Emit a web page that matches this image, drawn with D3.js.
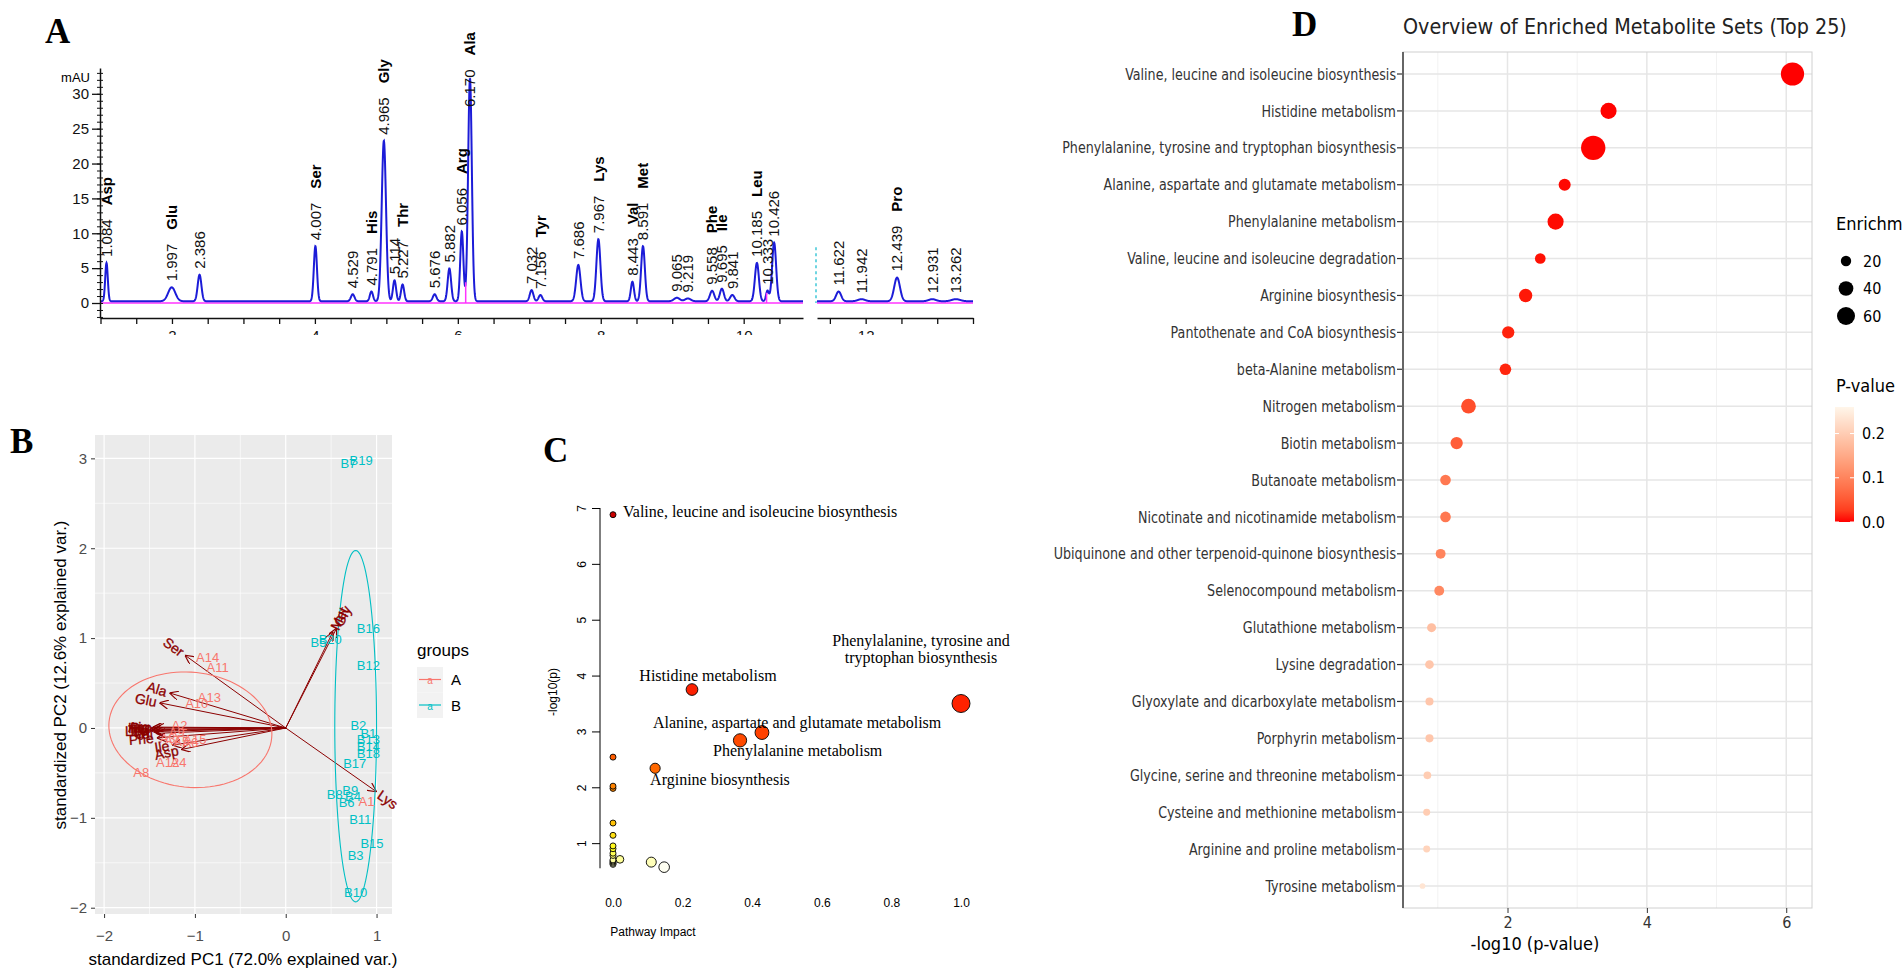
<!DOCTYPE html>
<html>
<head>
<meta charset="utf-8">
<script src="https://cdn.jsdelivr.net/npm/d3@7"></script>
<style>
body { margin: 0; background: #fff; }
svg { display: block; }
</style>
</head>
<body>
<svg id="fig" width="1902" height="980"></svg>
<script>
// ---- A: chromatogram peak table (retention time min, height mAU, width min) ----
const peakTimes = [1.084, 1.997, 2.386, 4.007, 4.529, 4.791, 4.965, 5.114, 5.227, 5.676, 5.882, 6.056, 6.170,
    7.032, 7.156, 7.686, 7.967, 8.443, 8.591, 9.065, 9.219, 9.558, 9.695, 9.841, 10.185, 10.333, 10.426,
    11.622, 11.942, 12.439, 12.931, 13.262];
const peakHeights = [5.5, 2.0, 3.8, 7.9, 1.0, 1.4, 23.0, 3.0, 2.4, 1.0, 4.7, 10.0, 32.0,
    1.6, 0.9, 5.2, 8.9, 2.8, 7.9, 0.5, 0.4, 1.5, 1.8, 0.9, 5.5, 1.5, 8.4,
    1.4, 0.3, 3.4, 0.3, 0.3];
const peakWidths = [0.018, 0.05, 0.026, 0.022, 0.025, 0.022, 0.03, 0.022, 0.022, 0.025, 0.024, 0.022, 0.026,
    0.025, 0.025, 0.03, 0.028, 0.022, 0.026, 0.04, 0.04, 0.03, 0.028, 0.03, 0.028, 0.02, 0.028,
    0.035, 0.05, 0.04, 0.05, 0.06];
const peakNames = ["Asp", "Glu", "", "Ser", "", "His", "Gly", "", "Thr", "", "", "Arg", "Ala",
    "", "Tyr", "", "Lys", "Val", "Met", "", "", "Phe", "Ile", "", "Leu", "", "",
    "", "", "Pro", "", ""];
const dropTimes = [6.11, 10.32];
const yTicksA = [0, 5, 10, 15, 20, 25, 30];

// ---- B: PCA biplot ----
const sampleNames = ["A1", "A2", "A3", "A4", "A5", "A6", "A7", "A8", "A9", "A10", "A11", "A12", "A13", "A14", "A15",
    "B1", "B2", "B3", "B4", "B5", "B6", "B7", "B8", "B9", "B10", "B11", "B12", "B13", "B14", "B15", "B16", "B17", "B18", "B19", "B20"];
const sampleX = [0.89, -1.17, -1.3, -1.18, -1.15, -1.05, -1.25, -1.59, -1.2, -0.98, -0.75, -1.3, -0.84, -0.86, -1.0,
    0.91, 0.8, 0.77, 0.74, 0.36, 0.67, 0.69, 0.54, 0.71, 0.77, 0.82, 0.91, 0.91, 0.91, 0.95, 0.91, 0.76, 0.91, 0.83, 0.49];
const sampleY = [-0.82, 0.03, -0.12, -0.38, -0.15, -0.16, -0.14, -0.5, -0.05, 0.27, 0.67, -0.38, 0.34, 0.79, -0.13,
    -0.06, 0.03, -1.42, -0.76, 0.95, -0.83, 2.94, -0.74, -0.69, -1.83, -1.02, 0.7, -0.13, -0.21, -1.28, 1.11, -0.39, -0.28, 2.98, 0.99];
const varNames = ["Ser", "Ala", "Glu", "Gly", "Met", "Lys", "Phe", "Ile", "Asp", "His", "Thr", "Arg", "Tyr", "Val", "Leu", "Pro"];
const varX = [-1.11, -1.28, -1.39, 0.56, 0.52, 1.0, -1.42, -1.25, -1.15, -1.48, -1.47, -1.46, -1.45, -1.43, -1.48, -1.44];
const varY = [0.81, 0.39, 0.28, 1.11, 1.07, -0.71, -0.11, -0.19, -0.24, 0.0, -0.02, 0.01, -0.04, -0.06, -0.03, 0.0];
const groupNames = ["A", "B"];
const groupColors = ["#F8766D", "#00BFC4"];
const ellipseCx = [-1.05, 0.77];
const ellipseCy = [-0.02, 0.02];
const ellipseRx = [0.9, 0.23];
const ellipseRy = [0.64, 1.955];
const ellipseAngle = [-6, 0];

// ---- C: pathway analysis (impact vs -log10 p) ----
const pathNames = ["Valine, leucine and isoleucine biosynthesis", "Histidine metabolism",
    "Phenylalanine, tyrosine and tryptophan biosynthesis", "Alanine, aspartate and glutamate metabolism",
    "Phenylalanine metabolism", "Valine, leucine and isoleucine degradation", "Arginine biosynthesis",
    "Pantothenate and CoA biosynthesis", "beta-Alanine metabolism", "Nitrogen metabolism", "Biotin metabolism",
    "Butanoate metabolism", "Nicotinate and nicotinamide metabolism",
    "Ubiquinone and other terpenoid-quinone biosynthesis", "Selenocompound metabolism", "Glutathione metabolism",
    "Lysine degradation", "Glyoxylate and dicarboxylate metabolism", "Porphyrin metabolism",
    "Glycine, serine and threonine metabolism", "Cysteine and methionine metabolism",
    "Arginine and proline metabolism", "Tyrosine metabolism"];
const pathLogP = [6.88, 3.75, 3.5, 2.98, 2.84, 2.54, 2.34, 2.02, 1.98, 1.36, 1.14, 0.95, 0.9,
    0.82, 0.78, 0.71, 0.7, 0.68, 0.66, 0.66, 0.64, 0.62, 0.57];
const pathImpact = [0, 0.227, 1.0, 0.428, 0.365, 0, 0.121, 0, 0, 0, 0, 0, 0,
    0, 0, 0.02, 0, 0, 0, 0.11, 0, 0, 0.147];

// ---- D: enrichment overview (same pathway order) ----
const enrichLogP = [6.09, 3.45, 3.23, 2.82, 2.69, 2.47, 2.26, 2.01, 1.97, 1.44, 1.27, 1.11, 1.11,
    1.04, 1.02, 0.91, 0.88, 0.88, 0.88, 0.85, 0.84, 0.84, 0.78];
const enrichP = [0.000001, 0.0004, 0.0006, 0.0015, 0.002, 0.0034, 0.0055, 0.0098, 0.011, 0.04, 0.055, 0.085, 0.085,
    0.1, 0.105, 0.18, 0.19, 0.19, 0.19, 0.2, 0.2, 0.21, 0.235];
const enrichRatio = [100, 48, 110, 27, 48, 21, 33, 28, 25, 40, 28, 21, 21,
    18, 18, 15, 14, 12, 12, 11, 9, 9, 6];
const sizeBreaks = [20, 40, 60];
const pBreaks = [0.0, 0.1, 0.2];

const sans = "'Liberation Sans', Arial, sans-serif";
const serif = "'Liberation Serif', 'Times New Roman', serif";
const narrow = "'Liberation Sans Narrow', 'DejaVu Sans Condensed', 'Liberation Sans', sans-serif";

let svg = d3.select("#fig");
let defs = svg.append("defs");

// panel letters
const letterPos = [[45, 43], [10, 453], [543, 462], [1292, 36]];
["A", "B", "C", "D"].forEach((l, i) => {
    svg.append("text").attr("x", letterPos[i][0]).attr("y", letterPos[i][1])
        .style("font-family", serif).style("font-weight", "bold").style("font-size", "35px").text(l);
});

drawChromatogram();
drawBiplot();
drawImpact();
drawEnrichment();

// horizontal squeeze factor that gives a text the wanted width
function fitWidth(sel, width) {
    let len = sel.node().getComputedTextLength();
    return width / len;
}

function drawChromatogram() {
    let g = svg.append("g");
    let x1 = d3.scaleLinear().domain([1.0, 10.83]).range([100.5, 803]);
    let x2 = d3.scaleLinear().domain([11.32, 13.5]).range([817, 973]);
    let y = d3.scaleLinear().domain([-2.15, 33.7]).range([318, 68]);
    let xOf = t => (t < 11 ? x1 : x2)(t);

    let signal = t => d3.sum(peakTimes, (p, i) => peakHeights[i] * Math.exp(-0.5 * Math.pow((t - p) / peakWidths[i], 2)));

    // the time labels under the axis are cut off in the figure
    defs.append("clipPath").attr("id", "clipA").append("rect")
        .attr("x", -10).attr("y", -20).attr("width", 1000).attr("height", 37);

    [[x1, 1.0, 10.83], [x2, 11.32, 13.5]].forEach(([sx, t0, t1]) => {
        g.append("path").datum([t0, t1])
            .attr("d", d3.line().x(d => sx(d)).y(() => y(0)))
            .attr("stroke", "#ff33ff").attr("stroke-width", 1.6).attr("fill", "none");

        let ts = d3.range(t0, t1, 0.003).concat([t1]);
        g.append("path").datum(ts)
            .attr("d", d3.line().x(d => sx(d)).y(d => y(0.25 + signal(d))))
            .attr("stroke", "#1c1cd8").attr("stroke-width", 2).attr("fill", "none");

        let ticks = d3.range(Math.ceil(t0 * 2) / 2, t1 + 0.001, 0.5);
        let ax = g.append("g").attr("transform", "translate(0,318)")
            .attr("clip-path", "url(#clipA)")
            .call(d3.axisBottom(sx).tickValues(ticks).tickSize(6).tickSizeOuter(0).tickPadding(6)
                .tickFormat(d => (d % 2 === 0 ? d : "")));
        ax.selectAll("text").style("font-family", sans).style("font-size", "15px").attr("fill", "#111");
        ax.select(".domain").attr("stroke", "#111").attr("stroke-width", 1.5);
        ax.selectAll(".tick line").attr("stroke", "#111").attr("stroke-width", 1.3);
    });

    // magenta drop lines
    dropTimes.forEach(t => {
        g.append("line").attr("x1", x1(t)).attr("x2", x1(t))
            .attr("y1", y(0)).attr("y2", y(0.25 + signal(t)))
            .attr("stroke", "#ff33ff").attr("stroke-width", 1.5);
    });

    // cyan dashed marker at the break
    g.append("line").attr("x1", x2.range()[0] - 1).attr("x2", x2.range()[0] - 1)
        .attr("y1", y(8)).attr("y2", y(0)).attr("stroke", "#40c8d8")
        .attr("stroke-width", 1.5).attr("stroke-dasharray", "3,3");

    // y axis
    let yAx = g.append("g").attr("transform", "translate(100,0)")
        .call(d3.axisLeft(y).tickValues(yTicksA).tickSize(8).tickSizeOuter(0).tickPadding(3));
    yAx.selectAll("text").style("font-family", sans).style("font-size", "15px").attr("fill", "#111");
    yAx.select(".domain").attr("stroke", "#111").attr("stroke-width", 1.5);
    yAx.selectAll(".tick line").attr("stroke", "#111").attr("stroke-width", 1.3);
    g.append("g").attr("transform", "translate(103,0)")
        .call(d3.axisLeft(y).tickValues(d3.range(-2, 34, 1)).tickSize(6).tickSizeOuter(0).tickFormat(""))
        .call(s => s.select(".domain").remove())
        .selectAll("line").attr("stroke", "#111");
    g.append("text").attr("x", 90).attr("y", 82).attr("text-anchor", "end")
        .style("font-family", sans).style("font-size", "13px").text("mAU");

    // peak labels
    peakTimes.forEach((t, i) => {
        let px = xOf(t);
        let bottom = Math.max(y(peakHeights[i] + 0.25) - 6, 107);
        let lab = g.append("text")
            .attr("transform", `translate(${px},${bottom}) rotate(-90)`)
            .attr("dy", "0.35em")
            .style("font-family", sans).style("font-size", "15px").attr("fill", "#111")
            .text(t.toFixed(3));
        if (peakNames[i]) {
            let len = lab.node().getComputedTextLength();
            g.append("text")
                .attr("transform", `translate(${px},${bottom - len - 14}) rotate(-90)`)
                .attr("dy", "0.35em")
                .style("font-family", sans).style("font-size", "15px").style("font-weight", "bold")
                .text(peakNames[i]);
        }
    });
}

function drawBiplot() {
    let g = svg.append("g");
    let x = d3.scaleLinear().domain([-2.1, 1.17]).range([95, 392]);
    let y = d3.scaleLinear().domain([-2.07, 3.26]).range([914, 435]);

    g.append("rect").attr("x", 95).attr("y", 435).attr("width", 297).attr("height", 479).attr("fill", "#EBEBEB");

    // grid
    let minorX = [-1.5, -0.5, 0.5], majorX = [-2, -1, 0, 1];
    let minorY = [-1.5, -0.5, 0.5, 1.5, 2.5], majorY = [-2, -1, 0, 1, 2, 3];
    minorX.forEach(v => g.append("line").attr("x1", x(v)).attr("x2", x(v)).attr("y1", 435).attr("y2", 914).attr("stroke", "#fff").attr("stroke-width", 0.6));
    minorY.forEach(v => g.append("line").attr("y1", y(v)).attr("y2", y(v)).attr("x1", 95).attr("x2", 392).attr("stroke", "#fff").attr("stroke-width", 0.6));
    majorX.forEach(v => g.append("line").attr("x1", x(v)).attr("x2", x(v)).attr("y1", 435).attr("y2", 914).attr("stroke", "#fff").attr("stroke-width", 1.2));
    majorY.forEach(v => g.append("line").attr("y1", y(v)).attr("y2", y(v)).attr("x1", 95).attr("x2", 392).attr("stroke", "#fff").attr("stroke-width", 1.2));

    // arrow marker
    defs.append("marker").attr("id", "arrowB")
        .attr("viewBox", "0 0 10 10").attr("refX", 10).attr("refY", 5)
        .attr("markerWidth", 9).attr("markerHeight", 9).attr("markerUnits", "userSpaceOnUse")
        .attr("orient", "auto")
        .append("path").attr("d", "M0,0L10,5L0,10").attr("fill", "none").attr("stroke", "#8B0000").attr("stroke-width", 1.3);

    varNames.forEach((v, i) => {
        g.append("line").attr("x1", x(0)).attr("y1", y(0)).attr("x2", x(varX[i])).attr("y2", y(varY[i]))
            .attr("stroke", "#8B0000").attr("stroke-width", 1).attr("marker-end", "url(#arrowB)");
    });

    // group ellipses
    groupNames.forEach((gr, k) => {
        let a = ellipseAngle[k] * Math.PI / 180;
        let pts = d3.range(0, 101).map(j => {
            let t = j / 100 * 2 * Math.PI;
            let ex = ellipseRx[k] * Math.cos(t), ey = ellipseRy[k] * Math.sin(t);
            return [ellipseCx[k] + ex * Math.cos(a) - ey * Math.sin(a), ellipseCy[k] + ex * Math.sin(a) + ey * Math.cos(a)];
        });
        g.append("path").datum(pts).attr("d", d3.line().x(d => x(d[0])).y(d => y(d[1])))
            .attr("fill", "none").attr("stroke", groupColors[k]).attr("stroke-width", 1.1);
    });

    // sample labels
    sampleNames.forEach((s, i) => {
        let k = groupNames.indexOf(s[0]);
        g.append("text").attr("x", x(sampleX[i])).attr("y", y(sampleY[i])).attr("dy", "0.35em")
            .attr("text-anchor", "middle").attr("fill", groupColors[k])
            .style("font-family", sans).style("font-size", "13px").text(s);
    });

    // variable labels along the arrows
    varNames.forEach((v, i) => {
        let ang = -Math.atan(varY[i] / varX[i]) * 180 / Math.PI;
        let right = varX[i] > 0;
        g.append("text")
            .attr("transform", `translate(${x(varX[i])},${y(varY[i])}) rotate(${ang})`)
            .attr("dx", right ? 3 : -3).attr("dy", "0.35em")
            .attr("text-anchor", right ? "start" : "end").attr("fill", "#8B0000")
            .attr("stroke", "#8B0000").attr("stroke-width", 0.3)
            .style("font-family", sans).style("font-size", "14px").text(v);
    });

    // axes
    let xa = g.append("g").attr("transform", "translate(0,914)")
        .call(d3.axisBottom(x).tickValues(majorX).tickSize(4).tickSizeOuter(0).tickPadding(12).tickFormat(d3.format("d")));
    let ya = g.append("g").attr("transform", "translate(95,0)")
        .call(d3.axisLeft(y).tickValues(majorY).tickSize(4).tickSizeOuter(0).tickPadding(4).tickFormat(d3.format("d")));
    [xa, ya].forEach(a => {
        a.select(".domain").remove();
        a.selectAll("line").attr("stroke", "#333");
        a.selectAll("text").style("font-family", sans).style("font-size", "15px").attr("fill", "#4D4D4D");
    });
    g.append("text").attr("x", 243).attr("y", 965).attr("text-anchor", "middle")
        .style("font-family", sans).style("font-size", "17px").text("standardized PC1 (72.0% explained var.)");
    g.append("text").attr("transform", "translate(66,675) rotate(-90)").attr("text-anchor", "middle")
        .style("font-family", sans).style("font-size", "17px").text("standardized PC2 (12.6% explained var.)");

    // legend
    g.append("text").attr("x", 417).attr("y", 656).style("font-family", sans).style("font-size", "17px").text("groups");
    groupNames.forEach((gr, k) => {
        let ky = 667 + k * 25.5;
        g.append("rect").attr("x", 417).attr("y", ky).attr("width", 26).attr("height", 25.5).attr("fill", "#F2F2F2");
        g.append("line").attr("x1", 419).attr("x2", 441).attr("y1", ky + 12.5).attr("y2", ky + 12.5)
            .attr("stroke", groupColors[k]).attr("stroke-width", 1.2);
        g.append("text").attr("x", 430).attr("y", ky + 17).attr("text-anchor", "middle").attr("fill", groupColors[k])
            .style("font-family", sans).style("font-size", "10px").text("a");
        g.append("text").attr("x", 451).attr("y", ky + 18).style("font-family", sans).style("font-size", "15px").text(gr);
    });
}

function drawImpact() {
    let g = svg.append("g");
    let x = d3.scaleLinear().domain([0, 1]).range([613, 961]);
    let y = d3.scaleLinear().domain([0, 7]).range([899, 508]);
    let r = d3.scaleSqrt().domain([0, 1]).range([3, 9]);
    let col = d3.scaleLinear().domain([0.55, 0.9, 1.5, 2.3, 3.5, 7])
        .range(["#ffffff", "#ffff20", "#ffb000", "#ff6a00", "#ff2200", "#c80000"]);

    let ya = g.append("g").attr("transform", "translate(600,0)")
        .call(d3.axisLeft(y).tickValues([1, 2, 3, 4, 5, 6, 7]).tickSize(8).tickSizeOuter(0).tickFormat(d3.format("d")));
    ya.select(".domain").attr("d", `M0,${y(0.55)}V${y(7)}`).attr("stroke", "#000");
    ya.selectAll("text").attr("x", 0).attr("dy", "0.35em").attr("text-anchor", "middle")
        .attr("transform", "translate(-18,0) rotate(-90)")
        .style("font-family", sans).style("font-size", "12px").attr("fill", "#000");

    let xa = g.append("g").attr("transform", "translate(0,886)")
        .call(d3.axisBottom(x).tickValues([0, 0.2, 0.4, 0.6, 0.8, 1.0]).tickSize(0).tickSizeOuter(0).tickPadding(12)
            .tickFormat(d3.format(".1f")));
    xa.select(".domain").remove();
    xa.selectAll("text").style("font-family", sans).style("font-size", "12px").attr("fill", "#000");

    g.append("text").attr("x", 653).attr("y", 936).attr("text-anchor", "middle")
        .style("font-family", sans).style("font-size", "12px").text("Pathway Impact");
    g.append("text").attr("transform", "translate(553,692) rotate(-90)").attr("dy", "0.35em")
        .attr("text-anchor", "middle").style("font-family", sans).style("font-size", "12px").text("-log10(p)");

    // points, least significant drawn first
    d3.range(pathNames.length).reverse().forEach(i => {
        g.append("circle").attr("cx", x(pathImpact[i])).attr("cy", y(pathLogP[i]))
            .attr("r", r(pathImpact[i])).attr("fill", col(pathLogP[i]))
            .attr("stroke", "#000").attr("stroke-width", 0.9);
    });

    // labelled pathways: [index, dx, dy, anchor]
    const labelLayout = [[0, 10, -3, "start"], [1, 16, -14, "middle"], [3, -109, -10, "start"],
        [4, -27, 10, "start"], [6, -5, 11, "start"]];
    labelLayout.forEach(([i, dx, dy, anchor]) => {
        g.append("text").attr("x", x(pathImpact[i]) + dx).attr("y", y(pathLogP[i]) + dy).attr("dy", "0.35em")
            .attr("text-anchor", anchor).style("font-family", serif).style("font-size", "16px")
            .text(pathNames[i]);
    });
    let t = g.append("text").attr("text-anchor", "middle").style("font-family", serif).style("font-size", "16px");
    t.append("tspan").attr("x", x(pathImpact[2]) - 40).attr("y", y(pathLogP[2]) - 63).attr("dy", "0.35em")
        .text("Phenylalanine, tyrosine and");
    t.append("tspan").attr("x", x(pathImpact[2]) - 40).attr("y", y(pathLogP[2]) - 46).attr("dy", "0.35em")
        .text("tryptophan biosynthesis");
}

function drawEnrichment() {
    let g = svg.append("g");
    let x = d3.scaleLinear().domain([0.5, 6.37]).range([1403, 1812]);
    let y = d3.scalePoint().domain(pathNames).range([74, 886]);
    let r = d3.scaleSqrt().domain([0, 60]).range([0, 9]);
    let col = d3.scaleLinear().domain([0, 0.26]).range(["#ff0000", "#fff6ea"]).interpolate(d3.interpolateLab);

    let title = g.append("text").attr("x", 1403).attr("y", 34).style("font-family", narrow).style("font-size", "21px")
        .attr("fill", "#222").text("Overview of Enriched Metabolite Sets (Top 25)");
    title.attr("transform", `translate(1403,0) scale(${fitWidth(title, 444)},1) translate(-1403,0)`);

    g.append("rect").attr("x", 1403).attr("y", 52).attr("width", 409).attr("height", 856).attr("fill", "#fff");
    [1, 3, 5].forEach(v => g.append("line").attr("x1", x(v)).attr("x2", x(v)).attr("y1", 52).attr("y2", 908)
        .attr("stroke", "#f2f2f2").attr("stroke-width", 1));
    [2, 4, 6].forEach(v => g.append("line").attr("x1", x(v)).attr("x2", x(v)).attr("y1", 52).attr("y2", 908)
        .attr("stroke", "#e6e6e6").attr("stroke-width", 1.5));
    pathNames.forEach(p => g.append("line").attr("x1", 1403).attr("x2", 1812).attr("y1", y(p)).attr("y2", y(p))
        .attr("stroke", "#e6e6e6").attr("stroke-width", 1.5));
    g.append("rect").attr("x", 1403).attr("y", 52).attr("width", 409).attr("height", 856)
        .attr("fill", "none").attr("stroke", "#d0d0d0").attr("stroke-width", 1);

    pathNames.forEach((p, i) => {
        g.append("circle").attr("cx", x(enrichLogP[i])).attr("cy", y(p)).attr("r", r(enrichRatio[i]))
            .attr("fill", col(enrichP[i]));
    });

    // category axis, labels drawn by hand so they can be squeezed to the figure's narrow font
    g.append("line").attr("x1", 1403).attr("x2", 1403).attr("y1", 52).attr("y2", 908)
        .attr("stroke", "#666").attr("stroke-width", 2);
    let labs = g.selectAll(".cat").data(pathNames).enter().append("text")
        .attr("class", "cat").attr("x", 0).attr("y", 0).attr("dy", "0.35em").attr("text-anchor", "end")
        .style("font-family", narrow).style("font-size", "16px").attr("fill", "#333").text(d => d);
    let sx = fitWidth(d3.select(labs.nodes()[0]), 271);
    labs.attr("transform", d => `translate(1396,${y(d)}) scale(${sx},1)`);
    pathNames.forEach(p => g.append("line").attr("x1", 1397).attr("x2", 1402).attr("y1", y(p)).attr("y2", y(p))
        .attr("stroke", "#333").attr("stroke-width", 1.2));

    let xa = g.append("g").attr("transform", "translate(0,908)")
        .call(d3.axisBottom(x).tickValues([2, 4, 6]).tickSize(5).tickSizeOuter(0).tickPadding(4).tickFormat(d3.format("d")));
    xa.select(".domain").remove();
    xa.selectAll("line").attr("stroke", "#333");
    xa.selectAll("text").style("font-family", narrow).style("font-size", "16px").attr("fill", "#333");
    g.append("text").attr("x", 1535).attr("y", 950).attr("text-anchor", "middle")
        .style("font-family", narrow).style("font-size", "18px").text("-log10 (p-value)");

    // size legend
    g.append("text").attr("x", 1836).attr("y", 230).style("font-family", narrow).style("font-size", "18px")
        .text("Enrichment Ratio");
    sizeBreaks.forEach((v, i) => {
        let cy = 261 + i * 27.5;
        g.append("circle").attr("cx", 1846).attr("cy", cy).attr("r", r(v)).attr("fill", "#000");
        g.append("text").attr("x", 1863).attr("y", cy).attr("dy", "0.35em")
            .style("font-family", narrow).style("font-size", "16px").text(v);
    });

    // colour legend
    g.append("text").attr("x", 1836).attr("y", 392).style("font-family", narrow).style("font-size", "18px")
        .text("P-value");
    let py = d3.scaleLinear().domain([0, 0.26]).range([522, 407]);
    let grad = defs.append("linearGradient").attr("id", "pgrad")
        .attr("x1", 0).attr("y1", 1).attr("x2", 0).attr("y2", 0);
    d3.range(0, 1.01, 0.1).forEach(f => grad.append("stop").attr("offset", f).attr("stop-color", col(f * 0.26)));
    g.append("rect").attr("x", 1835).attr("y", 407).attr("width", 19).attr("height", 115).attr("fill", "url(#pgrad)");
    pBreaks.forEach(v => {
        g.append("line").attr("x1", 1835).attr("x2", 1839).attr("y1", py(v)).attr("y2", py(v)).attr("stroke", "#fff");
        g.append("line").attr("x1", 1850).attr("x2", 1854).attr("y1", py(v)).attr("y2", py(v)).attr("stroke", "#fff");
        g.append("text").attr("x", 1862).attr("y", py(v)).attr("dy", "0.35em")
            .style("font-family", narrow).style("font-size", "16px").text(v.toFixed(1));
    });
}
</script>
</body>
</html>
